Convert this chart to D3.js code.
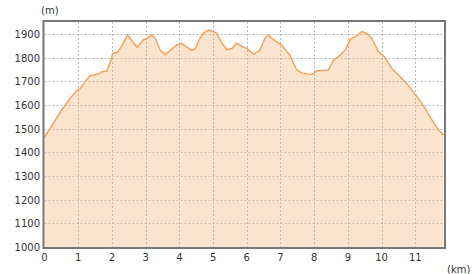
<!DOCTYPE html>
<html>
<head>
<meta charset="utf-8">
<script src="https://cdn.jsdelivr.net/npm/d3@7"></script>
<style>
body { margin: 0; background: #fff; }
text { font-family: "DejaVu Sans", sans-serif; font-size: 10px; fill: #333; }
</style>
</head>
<body>
<svg width="473" height="274"></svg>
<script>
// distance (km) and elevation (m)
var dist = [0, 0.26, 0.51, 0.76, 0.95, 1.05, 1.2, 1.35, 1.6, 1.7, 1.85, 1.99, 2.02, 2.16, 2.29, 2.46, 2.74, 2.93, 3.03, 3.18, 3.28, 3.43, 3.58, 3.77, 3.92, 4.07, 4.22, 4.37, 4.47, 4.61, 4.71, 4.86, 4.96, 5.11, 5.26, 5.41, 5.56, 5.70, 5.85, 6.0, 6.2, 6.39, 6.54, 6.64, 6.74, 6.89, 7.04, 7.19, 7.28, 7.48, 7.63, 7.78, 7.93, 8.08, 8.42, 8.57, 8.72, 8.92, 9.07, 9.26, 9.41, 9.56, 9.71, 9.91, 10.10, 10.3, 10.5, 10.7, 10.9, 11.09, 11.29, 11.49, 11.69, 11.83];
var elev = [1465, 1522, 1579, 1628, 1660, 1668, 1698, 1724, 1731, 1741, 1744, 1797, 1818, 1822, 1849, 1896, 1844, 1875, 1882, 1896, 1882, 1832, 1814, 1835, 1853, 1861, 1846, 1832, 1839, 1882, 1903, 1917, 1913, 1903, 1861, 1835, 1839, 1861, 1849, 1839, 1814, 1832, 1882, 1896, 1882, 1867, 1853, 1825, 1811, 1748, 1736, 1731, 1730, 1745, 1748, 1790, 1804, 1832, 1878, 1893, 1910, 1903, 1882, 1825, 1801, 1755, 1727, 1698, 1663, 1628, 1586, 1537, 1494, 1473];
var xTicks = [0, 1, 2, 3, 4, 5, 6, 7, 8, 9, 10, 11];
var yTicks = [1000, 1100, 1200, 1300, 1400, 1500, 1600, 1700, 1800, 1900];

var svg = d3.select("svg");
var pLeft = 44.5, pRight = 444, pTop = 22, pBottom = 247;

var x = d3.scaleLinear().domain([0, 11.85]).range([pLeft, pRight]);
var y = d3.scaleLinear().domain([1000, 1951]).range([pBottom, pTop]);

// grid
svg.append("g").selectAll("line").data(xTicks.slice(1)).enter().append("line")
  .attr("x1", function(d) { return Math.round(x(d)) + 0.5; })
  .attr("x2", function(d) { return Math.round(x(d)) + 0.5; })
  .attr("y1", pTop).attr("y2", pBottom)
  .attr("stroke", "#bbb").attr("stroke-dasharray", "2,2");
svg.append("g").selectAll("line").data(yTicks.slice(1)).enter().append("line")
  .attr("y1", function(d) { return Math.round(y(d)) + 0.5; })
  .attr("y2", function(d) { return Math.round(y(d)) + 0.5; })
  .attr("x1", pLeft).attr("x2", pRight)
  .attr("stroke", "#bbb").attr("stroke-dasharray", "2,2");

var pts = dist.map(function(d, i) { return [d, elev[i]]; });

var area = d3.area()
  .x(function(d) { return x(d[0]); })
  .y0(y(1000))
  .y1(function(d) { return y(d[1]); });
var line = d3.line()
  .x(function(d) { return x(d[0]); })
  .y(function(d) { return y(d[1]); });

svg.append("path").attr("d", area(pts))
  .attr("fill", "#f4a460").attr("fill-opacity", 0.3);
svg.append("path").attr("d", line(pts))
  .attr("fill", "none").attr("stroke", "#f4a460").attr("stroke-width", 1.5);

// frame
svg.append("rect")
  .attr("x", pLeft - 1).attr("y", pTop - 1)
  .attr("width", pRight - pLeft + 2).attr("height", pBottom - pTop + 2)
  .attr("fill", "none").attr("stroke", "#777").attr("stroke-width", 2);

// axes labels
svg.append("g").selectAll("text").data(yTicks).enter().append("text")
  .attr("x", 40).attr("y", function(d) { return y(d) + 4; })
  .attr("text-anchor", "end")
  .text(function(d) { return d; });
svg.append("g").selectAll("text").data(xTicks).enter().append("text")
  .attr("x", function(d) { return x(d); }).attr("y", 261)
  .attr("text-anchor", "middle")
  .text(function(d) { return d; });

svg.append("text").attr("x", 41).attr("y", 14).text("(m)");
svg.append("text").attr("x", 447).attr("y", 273).text("(km)");
</script>
</body>
</html>
